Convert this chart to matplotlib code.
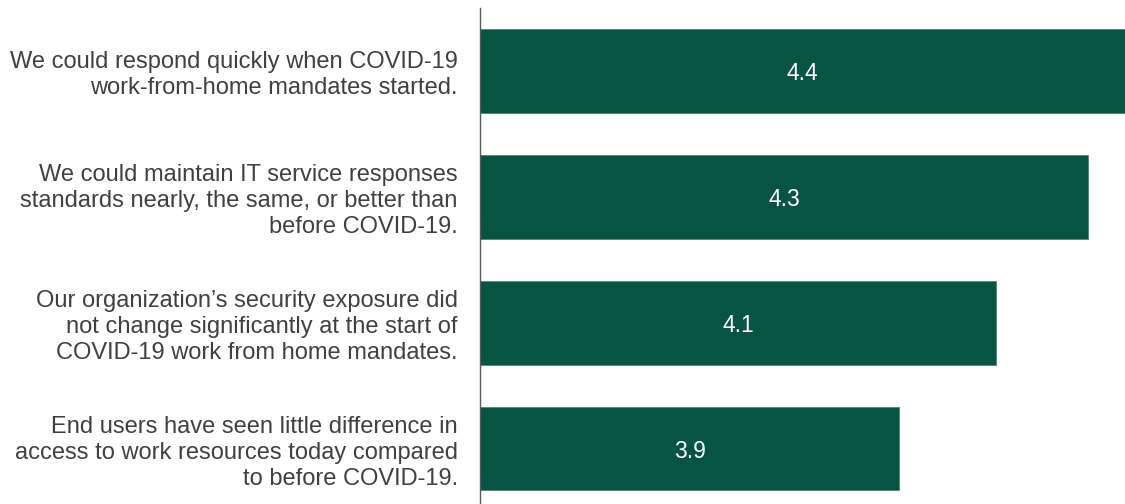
import matplotlib
matplotlib.use("Agg")
import matplotlib.pyplot as plt

categories = [
    "We could respond quickly when COVID-19\nwork-from-home mandates started.",
    "We could maintain IT service responses\nstandards nearly, the same, or better than\nbefore COVID-19.",
    "Our organization\u2019s security exposure did\nnot change significantly at the start of\nCOVID-19 work from home mandates.",
    "End users have seen little difference in\naccess to work resources today compared\nto before COVID-19.",
]
values = [4.40, 4.32, 4.12, 3.91]
value_labels = ["4.4", "4.3", "4.1", "3.9"]

plt.rcParams['font.family'] = ['Liberation Sans', 'DejaVu Sans']

fig = plt.figure(figsize=(11.25, 5.04), dpi=100)
ax = fig.add_axes([480/1125, 0.0, 1 - 480/1125, 1 - 8/504])

bar_color = "#075442"
ypos = list(range(len(categories)))
bars = ax.barh(ypos, values, height=0.665, color=bar_color,
               edgecolor="#4f8878", linewidth=0.6, zorder=2)

xmin, xmax = 3.0, 4.4
ax.set_xlim(xmin, xmax)
ax.set_ylim(3.44, -0.5)

for b, lab in zip(bars, value_labels):
    right = min(b.get_x() + b.get_width(), xmax)
    cx = (xmin + right) / 2
    cy = b.get_y() + b.get_height() / 2
    ax.text(cx, cy, lab, ha="center", va="center_baseline", color="white",
            fontsize=16.5)

ax.set_yticks(ypos)
ax.set_yticklabels(categories, fontsize=17, color="#404040",
                   linespacing=1.22)
ax.tick_params(axis="y", length=0, pad=16)
ax.set_xticks([])

for s in ["top", "right", "bottom"]:
    ax.spines[s].set_visible(False)
ax.spines["left"].set_color("#595959")
ax.spines["left"].set_linewidth(1.0)

fig.savefig("out.png", dpi=100)
